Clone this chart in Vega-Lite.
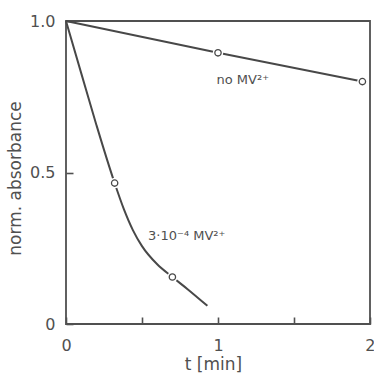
{
  "$schema": "https://vega.github.io/schema/vega-lite/v6.json",
  "width": 304,
  "height": 303,
  "autosize": "none",
  "padding": {"left": 66, "top": 21, "right": 4, "bottom": 52},
  "background": "white",
  "config": {
    "view": {"stroke": "#505050", "strokeWidth": 1.8},
    "font": "DejaVu Sans",
    "axis": {
      "domain": false,
      "grid": false,
      "labelFont": "DejaVu Sans",
      "titleFont": "DejaVu Sans",
      "labelColor": "#505050",
      "titleColor": "#505050",
      "labelFontSize": 16,
      "titleFontSize": 17,
      "titleFontWeight": "normal",
      "tickColor": "#505050",
      "tickWidth": 1.6,
      "tickSize": -7
    }
  },
  "datasets": {
    "curves": [
      {"t": 0, "v": 1.0, "series": "none"},
      {"t": 1.0, "v": 0.895, "series": "none"},
      {"t": 1.95, "v": 0.8, "series": "none"},
      {"t": 0, "v": 1.0, "series": "mv"},
      {"t": 0.1, "v": 0.828, "series": "mv"},
      {"t": 0.2, "v": 0.657, "series": "mv"},
      {"t": 0.32, "v": 0.465, "series": "mv"},
      {"t": 0.38, "v": 0.38, "series": "mv"},
      {"t": 0.44, "v": 0.31, "series": "mv"},
      {"t": 0.5, "v": 0.257, "series": "mv"},
      {"t": 0.6, "v": 0.197, "series": "mv"},
      {"t": 0.7, "v": 0.155, "series": "mv"},
      {"t": 0.8, "v": 0.115, "series": "mv"},
      {"t": 0.93, "v": 0.06, "series": "mv"}
    ],
    "points": [
      {"t": 1.0, "v": 0.895},
      {"t": 1.95, "v": 0.8},
      {"t": 0.32, "v": 0.465},
      {"t": 0.7, "v": 0.155}
    ],
    "labels": [
      {"t": 0.99, "v": 0.805, "text": "no MV²⁺"},
      {"t": 0.54, "v": 0.29, "text": "3·10⁻⁴ MV²⁺"}
    ]
  },
  "encoding": {
    "x": {
      "field": "t",
      "type": "quantitative",
      "scale": {"domain": [0, 2], "nice": false, "zero": false},
      "axis": {
        "title": "t [min]",
        "values": [0, 0.5, 1, 1.5, 2],
        "labelExpr": "datum.value % 1 == 0 ? format(datum.value, 'd') : ''",
        "labelPadding": 20,
        "labelFlush": true,
        "labelFlushOffset": 5,
        "titleX": 147,
        "titleY": 40,
        "titleBaseline": "middle",
        "titleAlign": "center"
      }
    },
    "y": {
      "field": "v",
      "type": "quantitative",
      "scale": {"domain": [0, 1], "nice": false},
      "axis": {
        "title": "norm. absorbance",
        "values": [0, 0.5, 1],
        "labelExpr": "datum.value == 0 ? '0' : format(datum.value, '.1f')",
        "labelPadding": 18,
        "labelFlush": false,
        "titleX": -51,
        "titleY": 157,
        "titleBaseline": "middle",
        "titleAlign": "center",
        "titleAngle": 270
      }
    }
  },
  "layer": [
    {
      "data": {"name": "curves"},
      "mark": {"type": "line", "interpolate": "monotone", "color": "#484848", "strokeWidth": 2},
      "encoding": {"detail": {"field": "series"}}
    },
    {
      "data": {"name": "points"},
      "mark": {"type": "point", "shape": "circle", "filled": true, "color": "white", "size": 110, "opacity": 1}
    },
    {
      "data": {"name": "points"},
      "mark": {"type": "point", "shape": "circle", "filled": false, "fill": "white", "stroke": "#484848", "strokeWidth": 1.3, "size": 40, "opacity": 1}
    },
    {
      "data": {"name": "labels"},
      "mark": {"type": "text", "align": "left", "baseline": "middle", "fontSize": 13, "color": "#505050", "font": "DejaVu Sans"},
      "encoding": {"text": {"field": "text"}}
    }
  ]
}
